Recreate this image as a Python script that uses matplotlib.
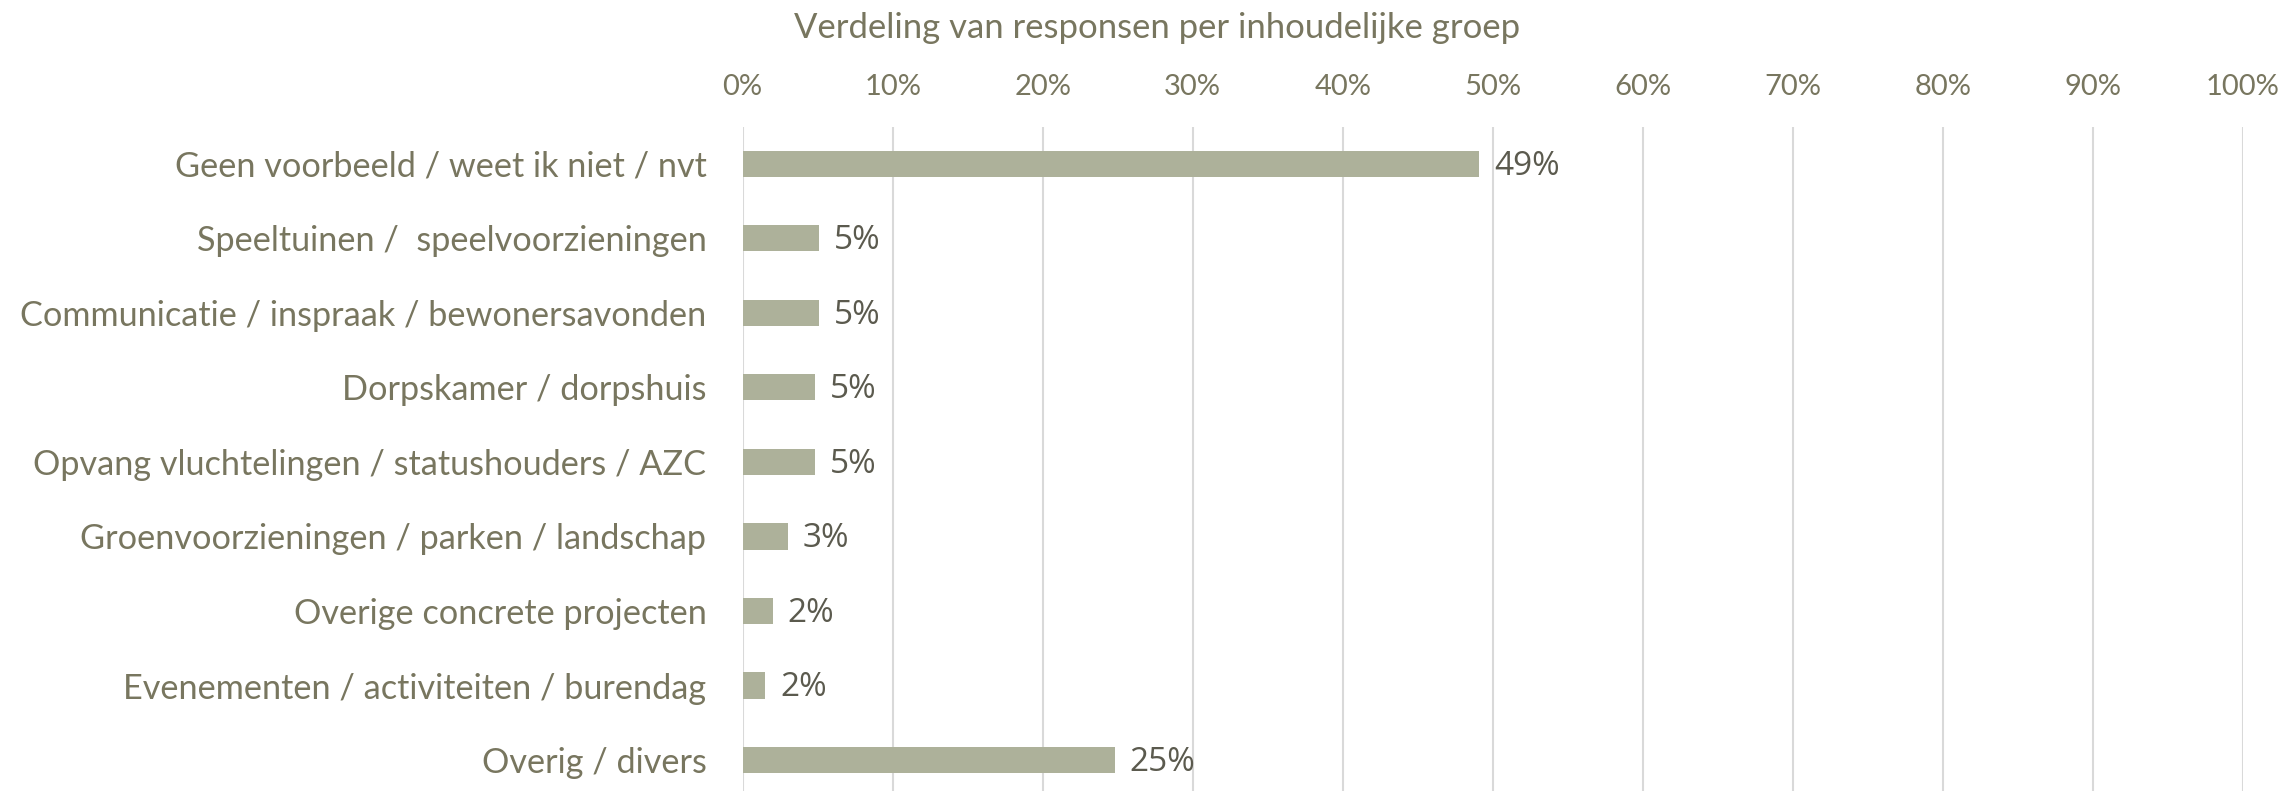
import matplotlib
matplotlib.use("Agg")
import matplotlib.pyplot as plt
from matplotlib.ticker import FuncFormatter

categories = [
    "Geen voorbeeld / weet ik niet / nvt",
    "Speeltuinen /  speelvoorzieningen",
    "Communicatie / inspraak / bewonersavonden",
    "Dorpskamer / dorpshuis",
    "Opvang vluchtelingen / statushouders / AZC",
    "Groenvoorzieningen / parken / landschap",
    "Overige concrete projecten",
    "Evenementen / activiteiten / burendag",
    "Overig / divers",
]
values = [49.1, 5.1, 5.1, 4.8, 4.8, 3.0, 2.0, 1.5, 24.8]
labels = ["49%", "5%", "5%", "5%", "5%", "3%", "2%", "2%", "25%"]
ticks = list(range(0, 101, 10))

bar_color = "#ADB19A"
text_color = "#78765F"
label_color = "#5B5A4E"
narrow = ["Lato", "DejaVu Sans"]

fig = plt.figure(figsize=(22.92, 7.91), dpi=100)
ax = fig.add_axes([0.324, -0.008, 0.6546, 0.848])

y = list(range(len(categories)))
ax.barh(y, values, height=0.35, color=bar_color, zorder=3)
for yi, v, lab in zip(y, values, labels):
    ax.text(v + 1.0, yi + 0.03, lab, va="center", ha="left", fontsize=24,
            color=label_color, family=["Open Sans", "DejaVu Sans"])

ax.set_xlim(0, 100)
ax.set_ylim(len(categories) - 0.5, -0.5)
ax.set_xticks(ticks)
ax.xaxis.set_major_formatter(FuncFormatter(lambda v, p: f"{v:.0f}%"))
ax.xaxis.tick_top()
ax.set_yticks(y)
ax.set_yticklabels(categories)
for t in ax.get_yticklabels():
    t.set_family(narrow)
    t.set_fontsize(24.7)
    t.set_color(text_color)
for t in ax.get_xticklabels():
    t.set_family(narrow)
    t.set_fontsize(21)
    t.set_color(text_color)
ax.tick_params(axis="both", length=0)
ax.tick_params(axis="y", pad=26)
ax.tick_params(axis="x", pad=19)
ax.grid(axis="x", color="#D9D9D9", linewidth=1.5, zorder=0)
for s in ax.spines.values():
    s.set_visible(False)

fig.text(0.5048, 0.965, "Verdeling van responsen per inhoudelijke groep",
         ha="center", va="center", fontsize=24.9, color=text_color, family=narrow)

fig.savefig("out.png", dpi=100)
